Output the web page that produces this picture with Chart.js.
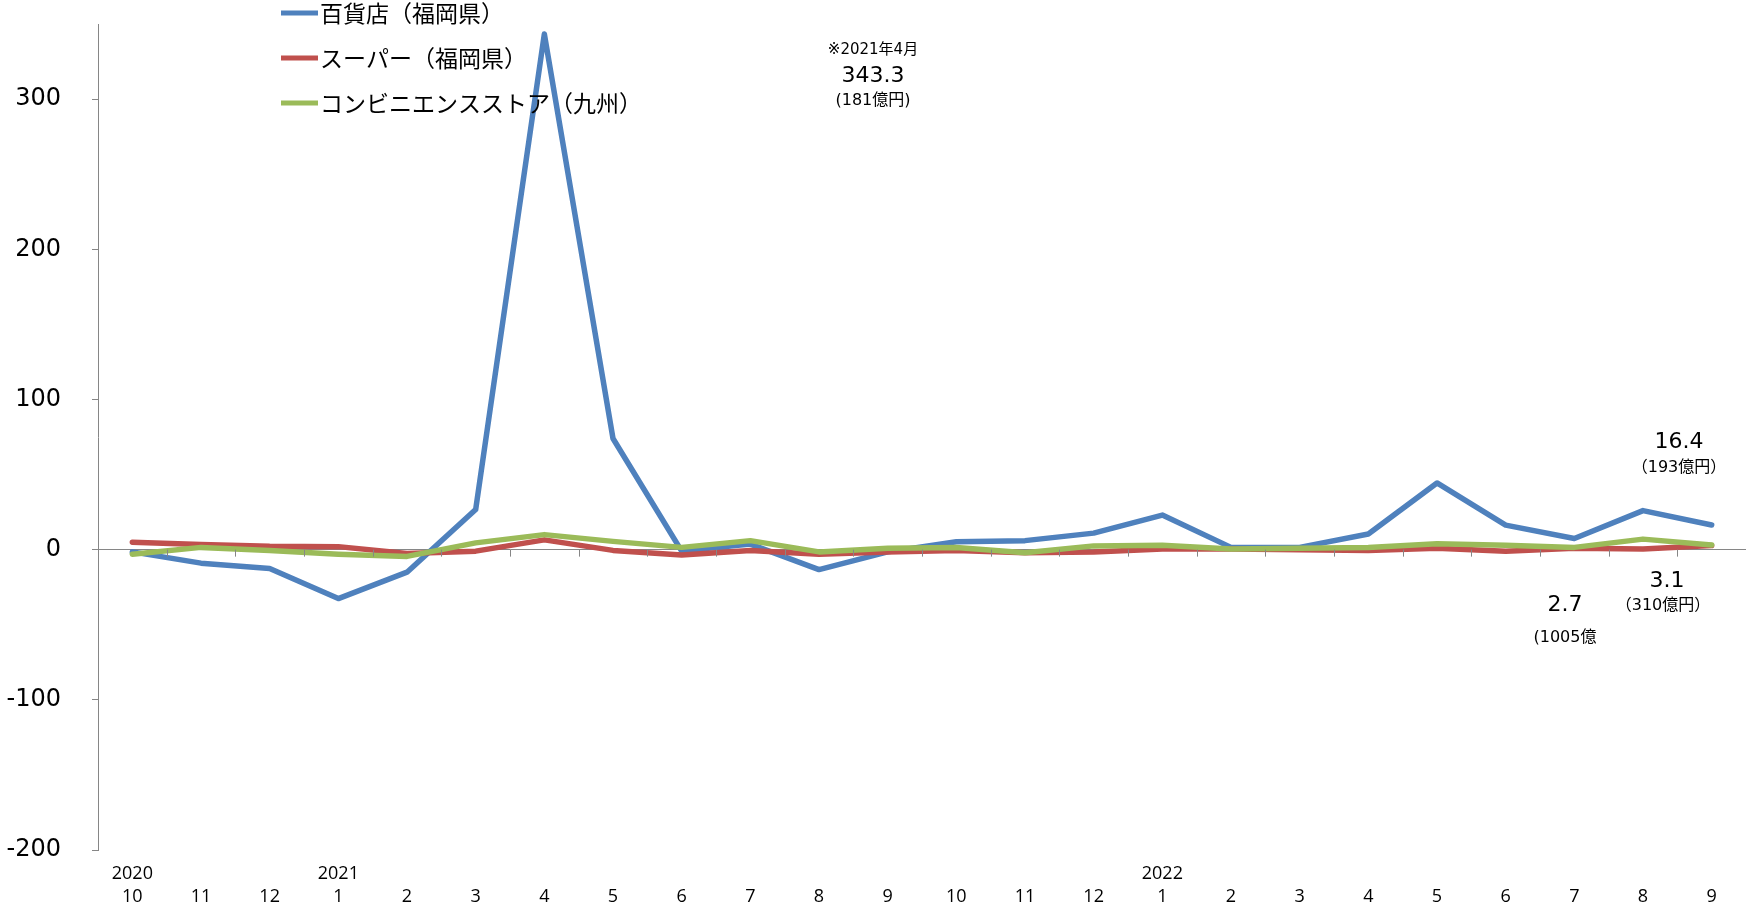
<!DOCTYPE html>
<html>
<head>
<meta charset="utf-8">
<script src="https://cdn.jsdelivr.net/npm/chart.js@4.4.0/dist/chart.umd.min.js"></script>
<style>
  html, body { margin: 0; padding: 0; background: #fff; }
  .chart-box { position: relative; width: 1746px; height: 912px; }
</style>
</head>
<body>
<div class="chart-box"><canvas id="salesChart"></canvas></div>
<script>
// month labels (year shown on first line where it changes)
const years = ['2020', '', '', '2021', '', '', '', '', '', '', '', '', '', '', '', '2022', '', '', '', '', '', '', '', ''];
const months = ['10', '11', '12', '1', '2', '3', '4', '5', '6', '7', '8', '9',
                '10', '11', '12', '1', '2', '3', '4', '5', '6', '7', '8', '9'];

// year-on-year change (%)
const deptStore = [-1.5, -9, -12.5, -32.6, -15, 26.7, 343.3, 74, -1, 3.7, -13.3, -1.5,
                   5.2, 6, 11, 23, 1.5, 1.5, 10.4, 44.4, 16.3, 7.4, 26, 16.4];
const superMarket = [5, 3.5, 2.2, 2, -2.5, -1, 6.5, -0.5, -3.5, -0.5, -3, -1.5,
                     -0.5, -2, -1.5, 0.5, 0.5, 0, -0.5, 1, -1, 1, 0.5, 2.7];
const convStore = [-3, 1.5, -0.5, -3, -4.5, 4.5, 10, 5.5, 1.5, 6, -1.5, 1,
                   1.5, -2, 2.5, 3, 0.5, 1, 1.5, 4, 3, 1.5, 7, 3.1];

const seriesNames = ['百貨店（福岡県）', 'スーパー（福岡県）', 'コンビニエンスストア（九州）'];
const seriesColors = ['#4F81BD', '#C0504D', '#9BBB59'];

const yTicks = [-200, -100, 0, 100, 200, 300];

// text notes on the chart: [text, x, y, size]
const notes = [
  ['※2021年4月', 873, 50, 15],
  ['343.3', 873, 76, 22],
  ['(181億円)', 873, 101, 16],
  ['16.4', 1679, 442, 22],
  ['（193億円）', 1679, 468, 16],
  ['3.1', 1667, 581, 22],
  ['（310億円）', 1663, 606, 16],
  ['2.7', 1565, 605, 22],
  ['(1005億', 1565, 638, 16]
];

const axisGray = '#868686';
const jpFont = "'Noto Sans CJK JP', 'Noto Sans', sans-serif";
const noteFont = "'DejaVu Sans', 'Noto Sans CJK JP', sans-serif";

// zero line tick marks between categories + legend + notes
const overlayPlugin = {
  id: 'overlay',
  afterDatasetsDraw(chart) {
    const { ctx, scales: { x, y } } = chart;
    const y0 = y.getPixelForValue(0);
    const step = x.width / months.length;
    ctx.save();
    ctx.strokeStyle = axisGray;
    ctx.lineWidth = 1;
    ctx.beginPath();
    for (let i = 1; i < months.length; i++) {
      const px = Math.round(x.left + i * step) + 0.5;
      ctx.moveTo(px, y0);
      ctx.lineTo(px, y0 + 7);
    }
    ctx.stroke();

    // legend
    seriesNames.forEach((name, i) => {
      const ly = 13 + i * 45;
      ctx.strokeStyle = seriesColors[i];
      ctx.lineWidth = 5;
      ctx.beginPath();
      ctx.moveTo(281, ly);
      ctx.lineTo(318, ly);
      ctx.stroke();
      ctx.fillStyle = '#000';
      ctx.font = '23px ' + jpFont;
      ctx.textAlign = 'left';
      ctx.textBaseline = 'middle';
      ctx.fillText(name, 320, ly);
    });

    // notes
    ctx.fillStyle = '#000';
    ctx.textAlign = 'center';
    ctx.textBaseline = 'middle';
    notes.forEach(([text, nx, ny, size]) => {
      ctx.font = size + 'px ' + noteFont;
      ctx.fillText(text, nx, ny);
    });
    ctx.restore();
  }
};

const labels = months.map((m, i) => [years[i], m]);

new Chart(document.getElementById('salesChart'), {
  type: 'line',
  data: {
    labels: labels,
    datasets: [
      { label: seriesNames[0], data: deptStore, borderColor: seriesColors[0], order: 2 },
      { label: seriesNames[1], data: superMarket, borderColor: seriesColors[1], order: 1 },
      { label: seriesNames[2], data: convStore, borderColor: seriesColors[2], order: 0 }
    ]
  },
  options: {
    responsive: true,
    maintainAspectRatio: false,
    animation: false,
    layout: { padding: { top: 24, right: 0, bottom: 0, left: 0 } },
    elements: {
      line: { borderWidth: 5.5, tension: 0, borderCapStyle: 'round', borderJoinStyle: 'round' },
      point: { radius: 0 }
    },
    plugins: {
      legend: { display: false },
      tooltip: { enabled: false }
    },
    scales: {
      x: {
        offset: true,
        afterFit(scale) { scale.height = 62; },
        grid: { display: false },
        border: { display: false },
        ticks: {
          color: '#000',
          maxRotation: 0,
          autoSkip: false,
          padding: 4,
          font: { family: "'Open Sans', sans-serif", size: 18, lineHeight: 1.3 }
        }
      },
      y: {
        min: -200,
        max: 350,
        afterFit(scale) {
          scale.width = 98;
          scale.paddingTop = 0;
          scale.paddingBottom = 0;
        },
        afterBuildTicks(scale) {
          scale.ticks = yTicks.concat([350]).map(v => ({ value: v }));
        },
        border: { display: true, color: axisGray, width: 1 },
        grid: {
          drawOnChartArea: true,
          tickLength: 6,
          color: c => (c.tick && c.tick.value === 0 ? axisGray : 'transparent'),
          tickColor: c => (c.tick && c.tick.value === 350 ? 'transparent' : axisGray)
        },
        ticks: {
          color: '#000',
          padding: 31,
          callback: v => (yTicks.includes(v) ? v : ''),
          font: { family: "'DejaVu Sans', sans-serif", size: 24 }
        }
      }
    }
  },
  plugins: [overlayPlugin]
});
</script>
</body>
</html>
